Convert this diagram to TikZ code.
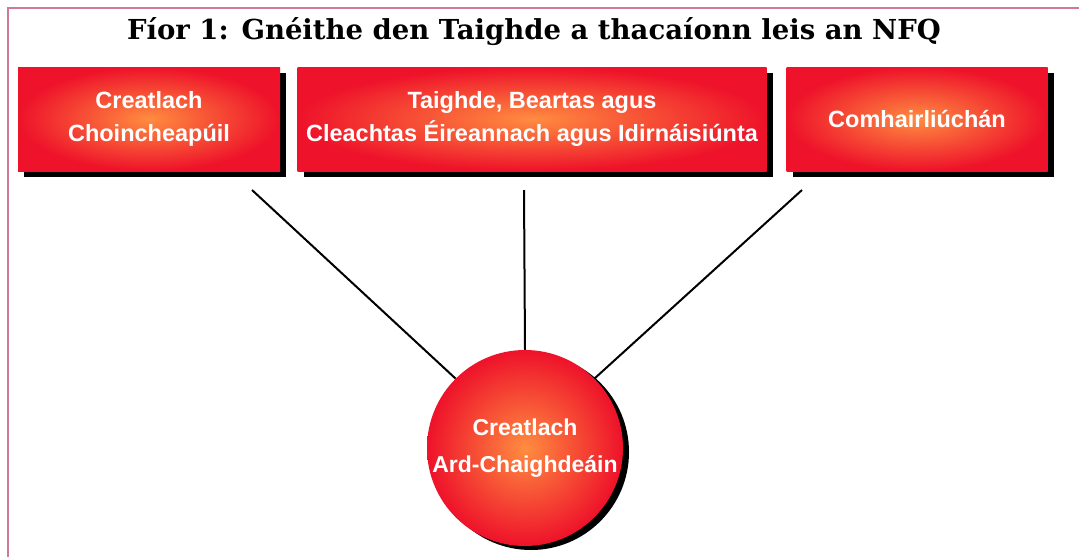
\documentclass[tikz,border=0pt]{standalone}
\usepackage{fontspec}
\setmainfont{DejaVu Serif}
\newfontfamily\boxfont{Liberation Sans}
\definecolor{framepink}{RGB}{208,120,150}
\definecolor{boxred}{RGB}{238,18,42}
\definecolor{boxorange}{RGB}{255,140,64}
\begin{document}
\begin{tikzpicture}[x=1pt,y=-1pt,
  redbox/.style={rectangle, minimum width=#1, minimum height=104, inner sep=0,
     inner color=boxorange, outer color=boxred, text=white, align=center,
     font=\boxfont\bfseries\fontsize{23.5}{33}\selectfont},
  shadowbox/.style={rectangle, fill=black, minimum width=#1, minimum height=104, inner sep=0},
  link/.style={draw=black, line width=2pt}]
\useasboundingbox (0,0) rectangle (1079,557);
\fill[white] (0,0) rectangle (1079,557);
\draw[framepink, line width=2.2pt] (8,557) -- (8,8) -- (1079,8);
\node[font=\bfseries\fontsize{27.5}{32}\selectfont] (title) at (534,32) {Fíor 1: Gnéithe den Taighde a thacaíonn leis an NFQ};
% shadows
\node[shadowbox=262] (s1) at (155,125) {};
\node[shadowbox=469] (s2) at (538,125) {};
\node[shadowbox=261] (s3) at (923,125) {};
\node[circle, fill=black, minimum size=196, inner sep=0] (sc) at (531,452) {};
\node[redbox=262] (b1) at (149,119) {Creatlach\\Choincheapúil};
\node[redbox=469] (b2) at (532,119) {Taighde, Beartas agus\\Cleachtas Éireannach agus Idirnáisiúnta};
\node[redbox=261] (b3) at (917,119) {Comhairliúchán};
\coordinate (e1) at (252,190);
\coordinate (e2) at (524,190);
\coordinate (e3) at (802,190);
\node[circle, minimum size=196, inner sep=0, inner color=boxorange, outer color=boxred, text=white, align=center,
  font=\boxfont\bfseries\fontsize{23}{37}\selectfont] (c) at (525,448) {Creatlach\\Ard-Chaighdeáin};
\draw[link] (e1) -- (c.135);
\draw[link] (e2) -- (c.north);
\draw[link] (e3) -- (c.45);
\end{tikzpicture}
\end{document}
